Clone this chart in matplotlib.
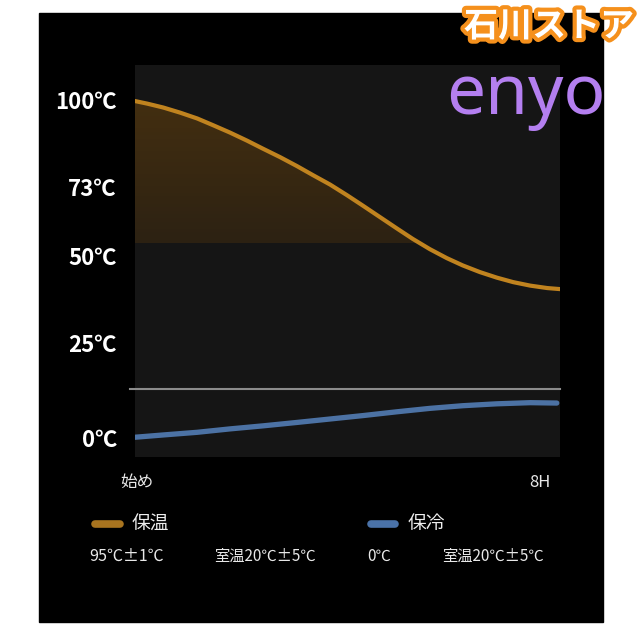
import numpy as np
import matplotlib
matplotlib.use("Agg")
import matplotlib.pyplot as plt
from matplotlib.patches import Rectangle
from matplotlib.lines import Line2D
import matplotlib.patheffects as pe
import matplotlib.transforms as mtransforms

plt.rcParams['font.family'] = ['Noto Sans CJK JP', 'DejaVu Sans']

# ---------------- data ----------------
warm_hours = [0, 0.23, 0.53, 0.85, 1.17, 1.47, 1.79, 2.11, 2.41, 2.73, 3.05,
              3.35, 3.67, 3.99, 4.29, 4.61, 4.93, 5.23, 5.55, 5.87, 6.17,
              6.49, 6.81, 7.12, 7.44, 7.76, 8.0]
warm_temp = [99.7, 98.9, 97.7, 96.1, 94.3, 92.2, 89.9, 87.4, 84.9, 82.3, 79.5,
             76.7, 73.8, 70.3, 66.8, 63.0, 59.2, 55.7, 52.3, 49.4, 47.3,
             45.4, 43.8, 42.5, 41.5, 40.8, 40.5]
cold_hours = [0, 0.53, 1.17, 1.79, 2.41, 3.05, 3.67, 4.29, 4.93, 5.55, 6.17,
              6.81, 7.44, 7.94]
cold_temp = [0.2, 0.8, 1.5, 2.4, 3.2, 4.1, 5.0, 5.9, 6.9, 7.8, 8.5,
             9.0, 9.3, 9.2]
room_line = 12.9
fill_floor = 54.3
ytick_vals = [0, 25, 50, 73, 100]
ytick_labels = ["0℃", "25℃", "50℃", "73℃", "100℃"]
xtick_vals = [0, 8]
xtick_labels = ["始め", "8H"]
legend_names = ["保温", "保冷"]
legend_sub_warm = ["95℃±1℃", "室温20℃±5℃"]
legend_sub_cold = ["0℃", "室温20℃±5℃"]
brand = "enyo"
shop = "石川ストア"

# non-uniform vertical scale used by the original artwork
anchor_t = np.array([-20, 0, 25, 50, 73, 100, 130])
anchor_p = -np.array([514, 438, 343, 256, 187, 100, 3.4])

def fwd(t):
    return np.interp(t, anchor_t, anchor_p)

def inv(u):
    return np.interp(u, anchor_p, anchor_t)

W = H = 640
fig = plt.figure(figsize=(6.4, 6.4), dpi=100, facecolor='white')
fig.patches.append(Rectangle((39 / W, 1 - 622 / H), (603 - 39) / W, (622 - 13) / H,
                             transform=fig.transFigure, color='black', zorder=-5))

ax = fig.add_axes([135 / W, 1 - 457 / H, 425 / W, 392 / H])
ax.set_facecolor('#151515')
ax.set_yscale('function', functions=(fwd, inv))
ax.set_xlim(0, 8)
ax.set_ylim(-5, 110.9)
for s in ax.spines.values():
    s.set_visible(False)

wh = np.array(warm_hours)
wt = np.array(warm_temp)

# gradient fill under the warm curve (bands clipped to the fill region)
region = ax.fill_between(wh, wt, fill_floor, where=wt >= fill_floor,
                         interpolate=True, color='none', lw=0)
clip_path = region.get_paths()[0]
levels = np.linspace(fill_floor, 101.0, 40)
c_top = np.array([0x43, 0x2e, 0x10]) / 255
c_bot = np.array([0x2c, 0x21, 0x12]) / 255
for i in range(len(levels) - 1):
    f = (i + 0.5) / (len(levels) - 1)
    col = c_bot + (c_top - c_bot) * f
    band = ax.axhspan(levels[i], levels[i + 1] + 0.3, color=col, lw=0, zorder=1)
    band.set_clip_path(clip_path, ax.transData)

ax.plot([-0.094, 8], [room_line, room_line], color='#8c8c8c', lw=1.5,
        clip_on=False, zorder=2)
ax.plot(wh, wt, color='#c0831f', lw=3.0, solid_capstyle='round',
        solid_joinstyle='round', zorder=3)
ax.plot(cold_hours, cold_temp, color='#4c72a4', lw=3.8, solid_capstyle='round',
        solid_joinstyle='round', zorder=3)

ax.set_yticks(ytick_vals)
ax.set_yticklabels(ytick_labels)
ax.yaxis.set_minor_locator(matplotlib.ticker.NullLocator())
ax.tick_params(axis='y', length=0, pad=13, labelsize=16, labelcolor='white')
for lab in ax.get_yticklabels():
    lab.set_fontweight('bold')

ax.set_xticks(xtick_vals)
ax.set_xticklabels(xtick_labels)
ax.tick_params(axis='x', length=0, pad=12, labelsize=12, labelcolor='#e8e8e8')
xl = ax.get_xticklabels()
xl[0].set_transform(xl[0].get_transform() +
                    mtransforms.ScaledTranslation(2 / 100, 0, fig.dpi_scale_trans))
xl[1].set_transform(xl[1].get_transform() +
                    mtransforms.ScaledTranslation(-20 / 100, 0, fig.dpi_scale_trans))

# legend (manual layout)
def fx(x):
    return x / W

def fy(y):
    return 1 - y / H

fig.add_artist(Line2D([fx(95), fx(120)], [fy(524), fy(524)], color='#a8741f',
                      lw=5.5, solid_capstyle='round'))
fig.add_artist(Line2D([fx(371), fx(395)], [fy(524), fy(524)], color='#4a72a8',
                      lw=5.5, solid_capstyle='round'))
fig.text(fx(132), fy(524), legend_names[0], color='#eeeeee', fontsize=13.5,
         va='center', ha='left')
fig.text(fx(408), fy(524), legend_names[1], color='#eeeeee', fontsize=13.5,
         va='center', ha='left')
fig.text(fx(89), fy(556), legend_sub_warm[0], color='#e8e8e8', fontsize=11.5,
         va='center', ha='left')
fig.text(fx(214), fy(556), legend_sub_warm[1], color='#e8e8e8', fontsize=11,
         va='center', ha='left')
fig.text(fx(367), fy(556), legend_sub_cold[0], color='#e8e8e8', fontsize=11,
         va='center', ha='left')
fig.text(fx(442), fy(556), legend_sub_cold[1], color='#e8e8e8', fontsize=11,
         va='center', ha='left')

# branding
fig.text(fx(446), fy(114), brand, color='#b47ff0', fontsize=50,
         family=['Noto Sans'], va='baseline', ha='left')
t = fig.text(fx(549), fy(26), shop, color='white', fontsize=24.5, fontweight='bold',
             va='center', ha='center')
t.set_path_effects([pe.Stroke(linewidth=6, foreground='#f5901c'), pe.Normal()])

fig.savefig('out.png', dpi=100, facecolor='white')
